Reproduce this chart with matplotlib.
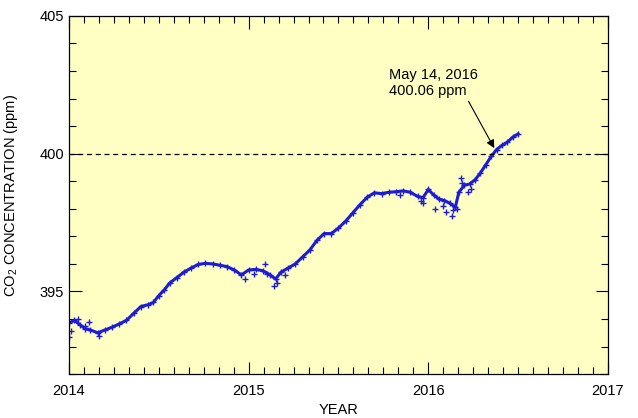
import matplotlib
matplotlib.use("Agg")
import matplotlib.pyplot as plt
from matplotlib.ticker import MultipleLocator

plt.rcParams['font.family'] = ['Liberation Sans', 'DejaVu Sans']
plt.rcParams['mathtext.default'] = 'regular'

# daily-ish CO2 record, decimal year vs ppm
years = [2014.00, 2014.03, 2014.06, 2014.09, 2014.12, 2014.16, 2014.20, 2014.24,
         2014.28, 2014.32, 2014.36, 2014.40, 2014.44, 2014.47, 2014.50, 2014.53,
         2014.56, 2014.60, 2014.64, 2014.68, 2014.72, 2014.76, 2014.80, 2014.84,
         2014.88, 2014.92, 2014.96, 2015.00, 2015.04, 2015.08, 2015.12, 2015.15,
         2015.18, 2015.22, 2015.26, 2015.30, 2015.34, 2015.38, 2015.42, 2015.46,
         2015.50, 2015.54, 2015.58, 2015.62, 2015.66, 2015.70, 2015.74, 2015.78,
         2015.82, 2015.86, 2015.90, 2015.94, 2015.97, 2016.00, 2016.03, 2016.06,
         2016.09, 2016.12, 2016.15, 2016.17, 2016.20, 2016.23, 2016.26, 2016.29,
         2016.32, 2016.35, 2016.38, 2016.41, 2016.44, 2016.47, 2016.50]
co2 = [393.85, 393.95, 393.80, 393.65, 393.60, 393.50, 393.60, 393.70,
       393.82, 393.95, 394.20, 394.45, 394.52, 394.60, 394.85, 395.05,
       395.30, 395.50, 395.70, 395.85, 395.98, 396.02, 396.00, 395.95,
       395.90, 395.78, 395.60, 395.78, 395.80, 395.75, 395.60, 395.45,
       395.70, 395.85, 396.00, 396.25, 396.50, 396.85, 397.10, 397.10,
       397.30, 397.55, 397.85, 398.15, 398.42, 398.58, 398.55, 398.60,
       398.62, 398.65, 398.60, 398.45, 398.40, 398.70, 398.50, 398.35,
       398.30, 398.20, 398.05, 398.60, 398.85, 398.90, 399.05, 399.30,
       399.60, 399.90, 400.15, 400.30, 400.42, 400.60, 400.72]

# scattered days away from the main trace
out_years = [2014.00, 2014.01, 2014.05, 2014.09, 2014.11, 2014.17, 2014.98,
             2015.03, 2015.09, 2015.10, 2015.14, 2015.16, 2015.20, 2015.84,
             2015.96, 2015.97, 2016.04, 2016.08, 2016.10, 2016.13, 2016.14,
             2016.16, 2016.18, 2016.19, 2016.22, 2016.24]
out_co2 = [393.35, 393.55, 394.00, 393.75, 393.90, 393.40, 395.45,
           395.65, 396.00, 395.65, 395.20, 395.30, 395.60, 398.50,
           398.30, 398.20, 398.00, 398.10, 397.90, 397.75, 397.95,
           398.00, 399.10, 398.95, 398.60, 398.70]

blue = '#1c1cd8'

fig = plt.figure(figsize=(6.38, 4.18), dpi=100)
ax = fig.add_axes([0.108, 0.105, 0.845, 0.857])
ax.set_facecolor('#ffffc4')

ax.plot(years, co2, color=blue, lw=2.2, marker='+', ms=4, mew=1)
ax.plot(out_years, out_co2, ls='none', color=blue, marker='+', ms=4, mew=1)
ax.axhline(400, color='black', lw=0.9, ls=(0, (4, 3)))

ax.annotate('May 14, 2016\n400.06 ppm', xy=(2016.367, 400.2), xytext=(2015.78, 402.55),
            fontsize=10.5, ha='left', va='center', linespacing=1.2,
            arrowprops=dict(arrowstyle='-|>', color='black', lw=0.8,
                            mutation_scale=12, shrinkA=0, shrinkB=0,
                            relpos=(0.88, 0.0)))

ax.set_xlim(2014, 2017)
ax.set_ylim(392, 405)
ax.set_xticks([2014, 2015, 2016, 2017])
ax.set_yticks([395, 400, 405])
ax.xaxis.set_minor_locator(MultipleLocator(1 / 12))
ax.yaxis.set_minor_locator(MultipleLocator(1))
ax.tick_params(which='both', direction='in', top=True, right=True, labelsize=10.5)
ax.tick_params(which='major', length=9, width=0.8)
ax.tick_params(which='minor', length=5, width=0.8)
ax.tick_params(axis='x', pad=7)
for s in ax.spines.values():
    s.set_linewidth(0.9)

ax.set_xlabel('YEAR', fontsize=10.5, labelpad=4)
ax.set_ylabel('CO$_2$ CONCENTRATION (ppm)', fontsize=10.5, labelpad=14)

fig.savefig('out.png', dpi=100)
